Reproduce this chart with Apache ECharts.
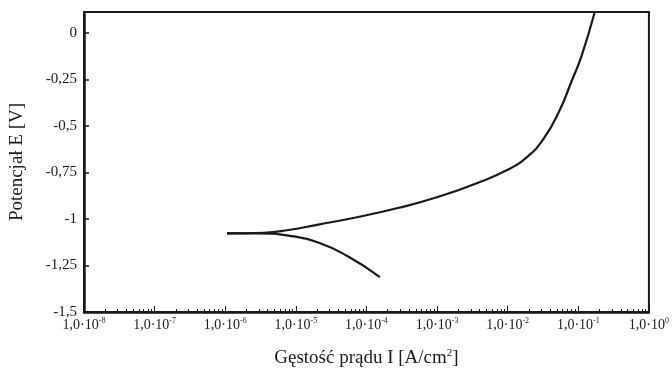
<!DOCTYPE html>
<html>
<head>
<meta charset="utf-8">
<script src="https://cdn.jsdelivr.net/npm/echarts@6/dist/echarts.min.js"></script>
<style>
  html, body { margin: 0; padding: 0; background: #fff; }
  #chart { width: 672px; height: 377px; }
</style>
</head>
<body>
<div id="chart"></div>
<script>
// current density [A/cm2] and potential [V]
const cathodicI = [1.06e-6, 2.98e-6, 7.88e-6, 2.08e-5, 5.51e-5, 1.55e-4];
const cathodicE = [-1.077, -1.077, -1.089, -1.126, -1.202, -1.312];

const anodicI = [1.06e-6, 3.52e-6, 7.88e-6, 2.08e-5, 7.62e-5, 2.78e-4, 1.02e-3, 3.72e-3, 9.82e-3, 1.87e-2, 3.25e-2, 5.46e-2, 8.05e-2, 0.111, 0.171];
const anodicE = [-1.077, -1.074, -1.059, -1.030, -0.989, -0.941, -0.882, -0.806, -0.737, -0.667, -0.567, -0.414, -0.258, -0.124, 0.113];

// axis ticks
const xExponents = [-8, -7, -6, -5, -4, -3, -2, -1, 0];
const yTicks = [0, -0.25, -0.5, -0.75, -1, -1.25, -1.5];
const yTickLabels = ['0', '-0,25', '-0,5', '-0,75', '-1', '-1,25', '-1,5'];

// minor ticks 2..9 per decade
const minorTicks = [];
xExponents.slice(0, -1).forEach(p => {
  for (let m = 2; m <= 9; m++) minorTicks.push(m * Math.pow(10, p));
});

const font = 'Liberation Serif';
const ink = '#1a1a1a';

const chart = echarts.init(document.getElementById('chart'));

const xBase = {
  type: 'log',
  logBase: 10,
  min: 1e-8,
  max: 1,
  gridIndex: 0,
  position: 'bottom',
  splitLine: { show: false }
};

chart.setOption({
  animation: false,
  grid: {
    left: 84,
    right: 19,
    top: 12,
    bottom: 65,
    show: true,
    borderColor: ink,
    borderWidth: 2
  },
  xAxis: [
    Object.assign({}, xBase, {
      name: '{n|Gęstość prądu I [A/cm}{s|2}{n|]}',
      nameLocation: 'middle',
      nameGap: 36,
      nameTextStyle: {
        rich: {
          n: { fontFamily: font, fontSize: 19, color: ink },
          s: { fontFamily: font, fontSize: 11, color: ink, padding: [0, 0, 10, 0] }
        }
      },
      axisLine: { onZero: false, lineStyle: { color: ink, width: 2.5 } },
      axisTick: {
        inside: true,
        length: 6,
        lineStyle: { color: ink, width: 1 },
        customValues: xExponents.map(p => Math.pow(10, p))
      },
      axisLabel: {
        margin: 5,
        customValues: xExponents.map(p => Math.pow(10, p)),
        formatter: function (v) {
          const p = Math.round(Math.log10(v));
          return '{a|1,0·10}{b|' + p + '}';
        },
        rich: {
          a: { fontFamily: font, fontSize: 14, color: ink },
          b: { fontFamily: font, fontSize: 8, color: ink, padding: [0, 0, 8, 0] }
        }
      }
    }),
    Object.assign({}, xBase, {
      axisLine: { show: false, onZero: false },
      axisLabel: { show: false },
      axisTick: {
        inside: true,
        length: 3,
        lineStyle: { color: ink, width: 1 },
        customValues: minorTicks
      }
    })
  ],
  yAxis: {
    type: 'value',
    min: -1.5,
    max: 0.113,
    interval: 0.25,
    name: 'Potencjał E [V]',
    nameLocation: 'middle',
    nameGap: 57,
    nameTextStyle: { fontFamily: font, fontSize: 19, color: ink },
    axisLine: { show: true, lineStyle: { color: ink, width: 2.5 } },
    axisTick: { inside: true, length: 5, lineStyle: { color: ink, width: 1.5 } },
    splitLine: { show: false },
    axisLabel: {
      margin: 7,
      showMaxLabel: false,
      fontFamily: font,
      fontSize: 15,
      color: ink,
      formatter: function (v) {
        const i = yTicks.findIndex(t => Math.abs(t - v) < 1e-6);
        return i >= 0 ? yTickLabels[i] : '';
      }
    }
  },
  series: [
    {
      type: 'line',
      xAxisIndex: 0,
      smooth: 0.5,
      showSymbol: false,
      lineStyle: { color: ink, width: 2.2 },
      data: anodicI.map((v, i) => [v, anodicE[i]])
    },
    {
      type: 'line',
      xAxisIndex: 0,
      smooth: 0.5,
      showSymbol: false,
      lineStyle: { color: ink, width: 2.2 },
      data: cathodicI.map((v, i) => [v, cathodicE[i]])
    }
  ]
});
</script>
</body>
</html>
